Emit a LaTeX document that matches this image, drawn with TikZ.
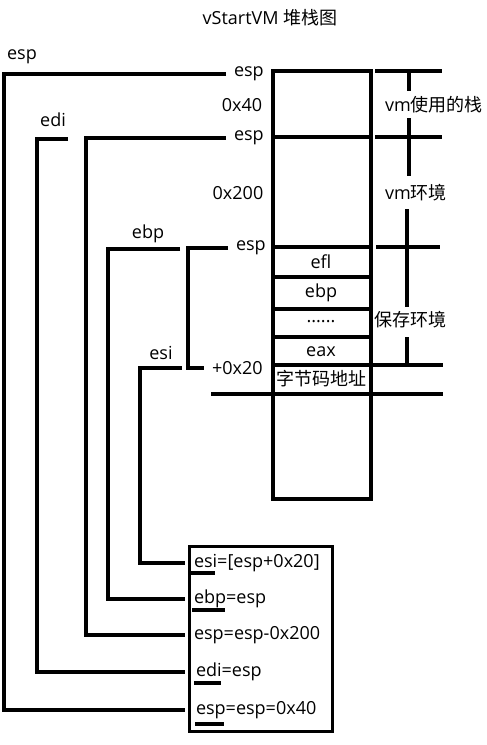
\documentclass[tikz,border=0pt]{standalone}
\usepackage{fontspec}
\setmainfont{Open Sans}
\newfontfamily\cjk{Noto Sans CJK SC}
\usetikzlibrary{calc, positioning}

\begin{document}
\begin{tikzpicture}[x=1pt, y=-1pt, line width=4pt,
  font=\fontsize{18}{21}\selectfont,
  lbl/.style={inner sep=0pt},
  tip/.style={anchor=west, inner xsep=7pt, inner ysep=0pt},
  ptr/.style={anchor=west, inner xsep=6pt, inner ysep=0pt}]
\useasboundingbox (0,0) rectangle (487,745);
\node[lbl] (title) at (270,18) {vStartVM {\cjk 堆栈图}};

% stack
\draw (273,71) rectangle (371,499);
\foreach \y in {137,247,277,309,337,365,394}
  \draw (273,\y) -- (371,\y);
\node[lbl] (efl) at (321,262) {efl};
\node[lbl] (ebp) at (321,293) {ebp};
\node[lbl] (dots) at (321,322) {......};
\node[lbl] (eax) at (321,352) {eax};
\node[lbl] (code) at (321,379) {\cjk 字节码地址};

% right side
\draw (375,71) -- (442,71);
\draw (375,137) -- (442,137);
\draw (376,247) -- (440,247);
\draw (371,365) -- (443,365);
\draw (211,394) -- (443,394);
\node[lbl] (vmstack) at (434,105) {vm{\cjk 使用的栈}};
\node[lbl] (vmenv) at (416,193) {vm{\cjk 环境}};
\node[lbl] (saved) at (410,320) {\cjk 保存环境};
\draw (409,71) -- (409,91);
\draw (409,118) -- (409,176);
\draw (407,209) -- (407,307);
\draw (407,337) -- (407,365);

% left side
\node[ptr] (espA) at (226,74) {esp};
\node[lbl] (sizeA) at (242,105) {0x40};
\node[ptr] (espB) at (226,138) {esp};
\node[lbl] (sizeB) at (238,193) {0x200};
\node[ptr] (espC) at (228,248) {esp};
\node[ptr] (off) at (204,368) {+0x20};
\node[lbl] (regesp) at (22,57) {esp};
\node[lbl] (regedi) at (53,120) {edi};
\node[lbl] (regebp) at (148,234) {ebp};
\node[lbl] (regesi) at (161,353) {esi};

% code box
\draw[line width=3pt] (189,546) rectangle (332,731);
\node[tip] (setesi) at (185,563) {esi=[esp+0x20]};
\node[tip] (setebp) at (185,599) {ebp=esp};
\node[tip] (subesp) at (185,635) {esp=esp-0x200};
\node[tip, inner xsep=9pt] (setedi) at (185,672) {edi=esp};
\node[tip, inner xsep=9pt] (setesp) at (185,710) {esp=esp=0x40};
\draw (191,573) -- (215,573);
\draw (192,610) -- (225,610);
\draw (194,683) -- (221,683);
\draw (195,724) -- (224,724);

\draw (espA.west) -| (4,710) -- (setesp.west);
\draw (68,139) -| (37,672) -- (setedi.west);
\draw (espB.west) -| (86,635) -- (subesp.west);
\draw (180,249) -| (108,599) -- (setebp.west);
\draw (espC.west) -| (188,368) -- (off.west);
\draw (182,368) -| (140,563) -- (setesi.west);
\end{tikzpicture}
\end{document}
